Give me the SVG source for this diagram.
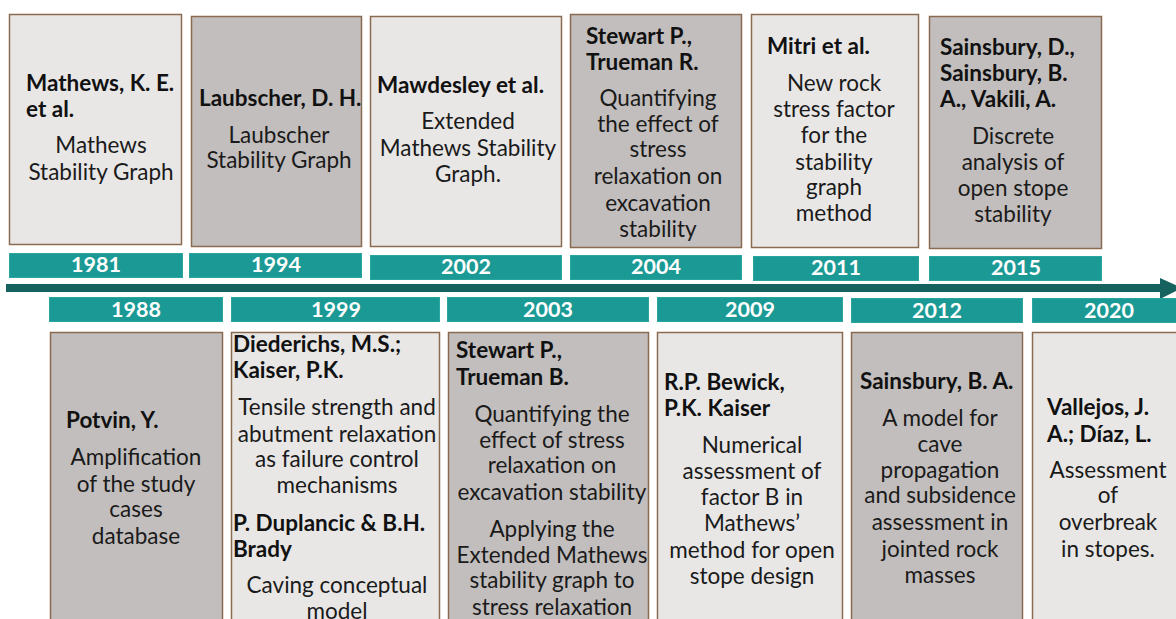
<svg xmlns="http://www.w3.org/2000/svg" width="1176" height="619" viewBox="0 0 1176 619">
<style>
.bl{fill:#e8e7e6;stroke:#8a6b50;stroke-width:1.5}
.bd{fill:#c2bebd;stroke:#8a6b50;stroke-width:1.5}
.yr{fill:#1b9a95;stroke:#2aa59f;stroke-width:1}
.yt{font-family:Lato,"Liberation Sans",sans-serif;font-weight:bold;font-size:21.5px;fill:#ffffff;text-anchor:middle}
.h{font-family:Lato,"Liberation Sans",sans-serif;font-weight:bold;font-size:22.5px;fill:#111111}
.b{font-family:Lato,"Liberation Sans",sans-serif;font-size:22.5px;fill:#1a1a1a;text-anchor:middle}
</style>
<rect width="1176" height="619" fill="#ffffff"/>
<g id="connectors">
<path d="M6,284 H1162 V292 H6 Z" fill="#16625e"/>
<path d="M1160,278 L1182,288 L1160,299 Z" fill="#16625e"/>
</g>
<g id="n1981">
<rect class="bl" x="9.5" y="14.5" width="172" height="230"/>
<rect class="yr" x="9.5" y="253.5" width="173" height="24"/>
<text class="yt" x="96" y="272">1981</text>
<text class="h" x="26" y="91">Mathews, K. E.</text>
<text class="h" x="26" y="117">et al.</text>
<text class="b" x="101" y="153">Mathews</text>
<text class="b" x="101" y="180">Stability Graph</text>
</g>
<g id="n1994">
<rect class="bd" x="191.5" y="16.5" width="170" height="230"/>
<rect class="yr" x="189.5" y="253.5" width="172" height="24"/>
<text class="yt" x="276" y="272">1994</text>
<text class="h" x="199" y="106">Laubscher, D. H.</text>
<text class="b" x="279" y="143">Laubscher</text>
<text class="b" x="279" y="168">Stability Graph</text>
</g>
<g id="n2002">
<rect class="bl" x="370.5" y="16.5" width="191" height="230"/>
<rect class="yr" x="370.5" y="255.5" width="191" height="24"/>
<text class="yt" x="466" y="274">2002</text>
<text class="h" x="377" y="93">Mawdesley et al.</text>
<text class="b" x="468" y="129">Extended</text>
<text class="b" x="468" y="156">Mathews Stability</text>
<text class="b" x="468" y="182">Graph.</text>
</g>
<g id="n2004">
<rect class="bd" x="570.5" y="14.5" width="171" height="233"/>
<rect class="yr" x="570.5" y="255.5" width="171" height="24"/>
<text class="yt" x="656" y="274">2004</text>
<text class="h" x="586" y="44">Stewart P.,</text>
<text class="h" x="586" y="70">Trueman R.</text>
<text class="b" x="658" y="106">Quantifying</text>
<text class="b" x="658" y="132">the effect of</text>
<text class="b" x="658" y="157">stress</text>
<text class="b" x="658" y="184">relaxation on</text>
<text class="b" x="658" y="211">excavation</text>
<text class="b" x="658" y="237">stability</text>
</g>
<g id="n2011">
<rect class="bl" x="751.5" y="14.5" width="167" height="233"/>
<rect class="yr" x="753.5" y="256.5" width="165" height="24"/>
<text class="yt" x="836" y="275">2011</text>
<text class="h" x="767" y="54">Mitri et al.</text>
<text class="b" x="834" y="91">New rock</text>
<text class="b" x="834" y="117">stress factor</text>
<text class="b" x="834" y="143">for the</text>
<text class="b" x="834" y="170">stability</text>
<text class="b" x="834" y="195">graph</text>
<text class="b" x="834" y="221">method</text>
</g>
<g id="n2015">
<rect class="bd" x="929.5" y="16.5" width="172" height="232"/>
<rect class="yr" x="929.5" y="256.5" width="172" height="24"/>
<text class="yt" x="1016" y="275">2015</text>
<text class="h" x="940" y="55">Sainsbury, D.,</text>
<text class="h" x="940" y="81">Sainsbury, B.</text>
<text class="h" x="940" y="107">A., Vakili, A.</text>
<text class="b" x="1013" y="144">Discrete</text>
<text class="b" x="1013" y="170">analysis of</text>
<text class="b" x="1013" y="196">open stope</text>
<text class="b" x="1013" y="222">stability</text>
</g>
<g id="n1988">
<rect class="yr" x="49.5" y="297.5" width="173" height="24"/>
<text class="yt" x="136" y="317">1988</text>
<rect class="bd" x="50.5" y="332.5" width="172" height="300"/>
<text class="h" x="66" y="428">Potvin, Y.</text>
<text class="b" x="136" y="465">Amplification</text>
<text class="b" x="136" y="492">of the study</text>
<text class="b" x="136" y="517">cases</text>
<text class="b" x="136" y="544">database</text>
</g>
<g id="n1999">
<rect class="yr" x="231.5" y="297.5" width="208" height="24"/>
<text class="yt" x="336" y="317">1999</text>
<rect class="bl" x="231.5" y="332.5" width="208" height="300"/>
<text class="h" x="233" y="352">Diederichs, M.S.;</text>
<text class="h" x="233" y="378">Kaiser, P.K.</text>
<text class="b" x="337" y="415">Tensile strength and</text>
<text class="b" x="337" y="442">abutment relaxation</text>
<text class="b" x="337" y="467">as failure control</text>
<text class="b" x="337" y="493">mechanisms</text>
<text class="h" x="233" y="531">P. Duplancic &amp; B.H.</text>
<text class="h" x="233" y="557">Brady</text>
<text class="b" x="337" y="593">Caving conceptual</text>
<text class="b" x="337" y="619">model</text>
</g>
<g id="n2003">
<rect class="yr" x="447.5" y="297.5" width="201" height="24"/>
<text class="yt" x="548" y="317">2003</text>
<rect class="bd" x="448.5" y="332.5" width="200" height="300"/>
<text class="h" x="456" y="358">Stewart P.,</text>
<text class="h" x="456" y="385">Trueman B.</text>
<text class="b" x="552" y="422">Quantifying the</text>
<text class="b" x="552" y="448">effect of stress</text>
<text class="b" x="552" y="473">relaxation on</text>
<text class="b" x="552" y="500">excavation stability</text>
<text class="b" x="552" y="537">Applying the</text>
<text class="b" x="552" y="563">Extended Mathews</text>
<text class="b" x="552" y="588">stability graph to</text>
<text class="b" x="552" y="615">stress relaxation</text>
</g>
<g id="n2009">
<rect class="yr" x="657.5" y="297.5" width="185" height="24"/>
<text class="yt" x="750" y="317">2009</text>
<rect class="bl" x="657.5" y="332.5" width="185" height="300"/>
<text class="h" x="664" y="390">R.P. Bewick,</text>
<text class="h" x="664" y="416">P.K. Kaiser</text>
<text class="b" x="752" y="453">Numerical</text>
<text class="b" x="752" y="479">assessment of</text>
<text class="b" x="752" y="505">factor B in</text>
<text class="b" x="752" y="531">Mathews’</text>
<text class="b" x="752" y="558">method for open</text>
<text class="b" x="752" y="584">stope design</text>
</g>
<g id="n2012">
<rect class="yr" x="851.5" y="298.5" width="171" height="24"/>
<text class="yt" x="937" y="318">2012</text>
<rect class="bd" x="851.5" y="332.5" width="171" height="300"/>
<text class="h" x="860" y="389">Sainsbury, B. A.</text>
<text class="b" x="940" y="426">A model for</text>
<text class="b" x="940" y="452">cave</text>
<text class="b" x="940" y="478">propagation</text>
<text class="b" x="940" y="503">and subsidence</text>
<text class="b" x="940" y="530">assessment in</text>
<text class="b" x="940" y="557">jointed rock</text>
<text class="b" x="940" y="583">masses</text>
</g>
<g id="n2020">
<rect class="yr" x="1032.5" y="298.5" width="160" height="24"/>
<text class="yt" x="1109" y="318">2020</text>
<rect class="bl" x="1032.5" y="332.5" width="160" height="300"/>
<text class="h" x="1047" y="415">Vallejos, J.</text>
<text class="h" x="1047" y="442">A.; Díaz, L.</text>
<text class="b" x="1108" y="478">Assessment</text>
<text class="b" x="1108" y="503">of</text>
<text class="b" x="1108" y="530">overbreak</text>
<text class="b" x="1108" y="557">in stopes.</text>
</g>
</svg>
